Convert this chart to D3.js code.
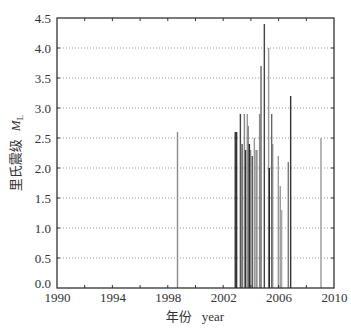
<!DOCTYPE html>
<html><head><meta charset="utf-8">
<script src="https://cdn.jsdelivr.net/npm/d3@7"></script>
<style>body{margin:0;background:#fff}svg{display:block}</style>
</head><body>
<script>
const years = [1998.7, 2002.87, 2002.97, 2003.24, 2003.32, 2003.38, 2003.53, 2003.62, 2003.74, 2003.81, 2003.89, 2003.98, 2004.10, 2004.25, 2004.38, 2004.44, 2004.63, 2004.73, 2004.97, 2005.28, 2005.33, 2005.50, 2005.57, 2005.98, 2006.12, 2006.22, 2006.70, 2006.87, 2009.06];
const magnitudes = [2.6, 2.6, 2.6, 2.9, 2.4, 2.4, 2.9, 2.3, 2.9, 2.7, 2.4, 2.3, 2.2, 2.5, 2.3, 2.3, 2.9, 3.7, 4.4, 4.0, 2.0, 2.9, 2.4, 2.2, 1.7, 1.3, 2.1, 3.2, 2.5];
const shades = ["#8a8a8a","#333","#333","#444","#999","#777","#888","#333","#999","#888","#222","#888","#555","#999","#777","#999","#888","#666","#444","#999","#222","#666","#888","#999","#999","#aaa","#777","#333","#999"];
const xTicks = [1990, 1994, 1998, 2002, 2006, 2010];
const xMinor = [1992, 1994, 1996, 1998, 2000, 2002, 2004, 2006, 2008];
const yTicks = [0, 0.5, 1.0, 1.5, 2.0, 2.5, 3.0, 3.5, 4.0, 4.5];

const W = 351, H = 330;
const m = {l: 57, r: 17, t: 18, b: 42};
const svg = d3.select("body").append("svg").attr("width", W).attr("height", H);
const x = d3.scaleLinear().domain([1990, 2010]).range([m.l, W - m.r]);
const y = d3.scaleLinear().domain([0, 4.5]).range([H - m.b, m.t]);
const serif = "'Liberation Serif','Times New Roman',serif";

// grid
svg.append("g").selectAll("line").data(yTicks.slice(1, -1)).join("line")
  .attr("x1", m.l).attr("x2", W - m.r).attr("y1", d => y(d)).attr("y2", d => y(d))
  .attr("stroke", "#999").attr("stroke-width", 1).attr("stroke-dasharray", "1,2");

// bars
svg.append("g").selectAll("line").data(years).join("line")
  .attr("x1", d => x(d)).attr("x2", d => x(d))
  .attr("y1", y(0)).attr("y2", (d, i) => y(magnitudes[i]))
  .attr("stroke", (d, i) => shades[i]).attr("stroke-width", 1.4);

// axes
const bottom = svg.append("g").attr("transform", `translate(0,${y(0)})`)
  .call(d3.axisBottom(x).tickValues(xTicks).tickSize(0).tickPadding(5).tickFormat(d3.format("d")));
const left = svg.append("g").attr("transform", `translate(${m.l},0)`)
  .call(d3.axisLeft(y).tickValues(yTicks).tickSize(0).tickPadding(6).tickFormat(d3.format(".1f")));
[bottom, left].forEach(g => {
  g.select(".domain").remove();
  g.selectAll("text").attr("font-family", serif).attr("font-size", 13).attr("fill", "#333");
});
left.selectAll(".tick").filter(d => d === 0).select("text").attr("dy", "-0.05em");

// inward ticks
const tk = svg.append("g").attr("stroke", "#333").attr("stroke-width", 1);
tk.selectAll(".tb").data(xMinor).join("line").attr("x1", d => x(d)).attr("x2", d => x(d)).attr("y1", y(0)).attr("y2", y(0) - 3);
tk.selectAll(".tt").data(xMinor).join("line").attr("x1", d => x(d)).attr("x2", d => x(d)).attr("y1", y(4.5)).attr("y2", y(4.5) + 3);
tk.selectAll(".tl").data(yTicks.slice(1, -1)).join("line").attr("x1", m.l).attr("x2", m.l + 3).attr("y1", d => y(d)).attr("y2", d => y(d));
tk.selectAll(".tr").data(yTicks.slice(1, -1)).join("line").attr("x1", W - m.r).attr("x2", W - m.r - 3).attr("y1", d => y(d)).attr("y2", d => y(d));

// frame
svg.append("rect").attr("x", m.l).attr("y", m.t).attr("width", W - m.r - m.l).attr("height", y(0) - m.t)
  .attr("fill", "none").attr("stroke", "#333").attr("stroke-width", 1.3);

// axis titles
const xt = svg.append("text").attr("x", 195).attr("y", 321).attr("text-anchor", "middle")
  .attr("font-size", 13).attr("fill", "#333");
xt.append("tspan").attr("font-family", "'Noto Sans CJK SC'").text("年份");
xt.append("tspan").attr("font-family", serif).attr("dx", 10).text("year");

const yt = svg.append("text").attr("transform", `translate(20,${(m.t + y(0)) / 2}) rotate(-90)`)
  .attr("text-anchor", "middle").attr("font-size", 13).attr("fill", "#333");
yt.append("tspan").attr("font-family", "'Noto Sans CJK SC'").text("里氏震级");
yt.append("tspan").attr("font-family", serif).attr("font-style", "italic").attr("dx", 8).text("M");
yt.append("tspan").attr("font-family", serif).attr("font-size", 9).attr("dy", 3).text("L");
</script>
</body></html>
